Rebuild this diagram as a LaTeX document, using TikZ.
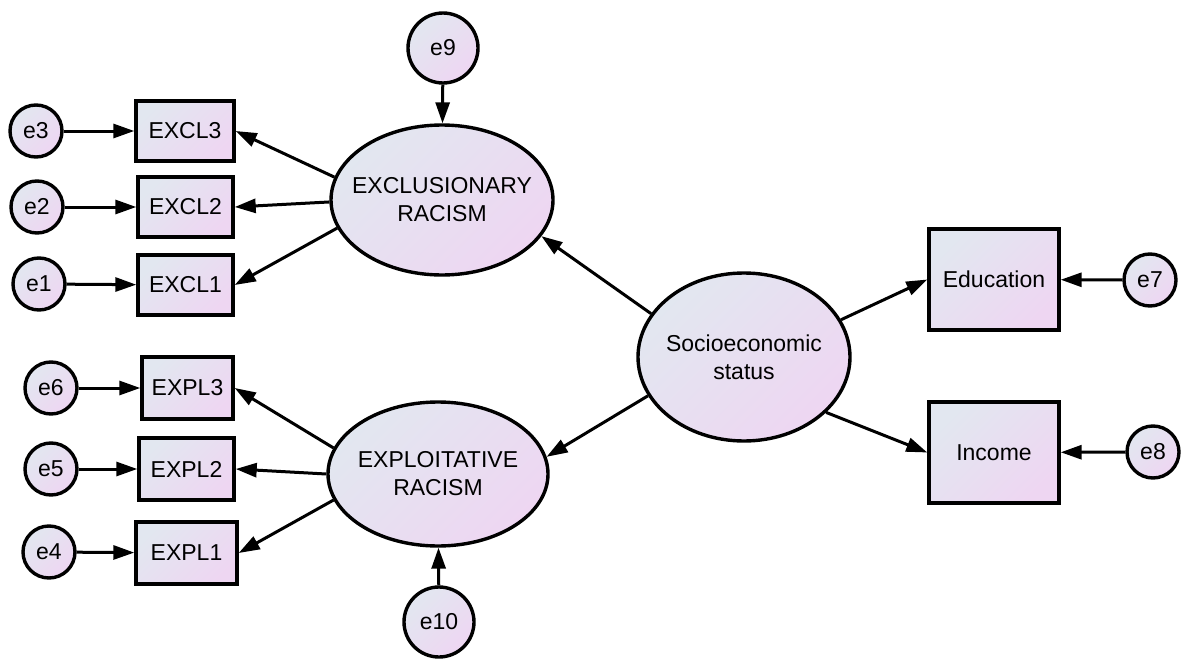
\documentclass[tikz,border=0pt]{standalone}
\usepackage{fontspec}
\setmainfont{Liberation Sans}
\usetikzlibrary{shapes.geometric,arrows.meta}
\definecolor{gL}{HTML}{E2E7F0}
\definecolor{gR}{HTML}{EED6F2}
\begin{document}
\begin{tikzpicture}[x=0.5pt,y=-0.5pt,
  base/.style={draw=black, line width=1.7pt, top color=gL, bottom color=gR, shading angle=45,
    font=\fontsize{11.5}{14}\selectfont, align=center, inner sep=0pt, text=black},
  obs/.style={base, rectangle},
  lat/.style={base, ellipse, inner xsep=-12pt, inner ysep=-6pt},
  err/.style={base, ellipse, minimum width=26pt, minimum height=26pt},
  errbig/.style={base, ellipse, minimum width=35pt, minimum height=35pt},
  arr/.style={line width=1.5pt, -{Triangle[length=10.5pt,width=7pt]}}
]
\useasboundingbox (0,0) rectangle (1200,669);

% latent variables
\node[lat, minimum width=111pt, minimum height=75pt] (excl) at (442,200) {EXCLUSIONARY\\RACISM};
\node[lat, minimum width=110pt, minimum height=72pt] (expl) at (438,474) {EXPLOITATIVE\\RACISM};
\node[lat, minimum width=106pt, minimum height=84pt] (ses) at (744,357) {Socioeconomic\\status};

% observed
\node[obs, minimum width=49pt, minimum height=30pt] (x3) at (185,131) {EXCL3};
\node[obs, minimum width=47.5pt, minimum height=30pt] (x2) at (185.5,207) {EXCL2};
\node[obs, minimum width=47.5pt, minimum height=30pt] (x1) at (185.5,285) {EXCL1};
\node[obs, minimum width=45.5pt, minimum height=31pt] (p3) at (187.5,388) {EXPL3};
\node[obs, minimum width=47.5pt, minimum height=31pt] (p2) at (186.5,469) {EXPL2};
\node[obs, minimum width=50.5pt, minimum height=31pt] (p1) at (186.5,553) {EXPL1};
\node[obs, minimum width=65pt, minimum height=50.5pt] (edu) at (994,279.5) {Education};
\node[obs, minimum width=65pt, minimum height=50.5pt] (inc) at (994,452.5) {Income};

% errors
\node[err] (e3) at (36,131) {e3};
\node[err] (e2) at (37,207) {e2};
\node[err] (e1) at (39,284) {e1};
\node[err] (e6) at (51,388) {e6};
\node[err] (e5) at (51,469) {e5};
\node[err] (e4) at (49,552) {e4};
\node[err] (e7) at (1150,280) {e7};
\node[err] (e8) at (1153,452) {e8};
\node[errbig] (e9) at (443,48) {e9};
\node[errbig] (e10) at (439,622) {e10};

% error arrows
\draw[arr] (e3) -- (x3);
\draw[arr] (e2) -- (x2);
\draw[arr] (e1) -- (x1);
\draw[arr] (e6) -- (p3);
\draw[arr] (e5) -- (p2);
\draw[arr] (e4) -- (p1);
\draw[arr] (e7) -- (edu);
\draw[arr] (e8) -- (inc);
\draw[arr] (e9) -- (excl);
\draw[arr] (e10) -- (expl);

% loadings
\draw[arr] (excl.168) -- (x3.east);
\draw[arr] (excl.181) -- (x2.east);
\draw[arr] (excl.195) -- (x1.east);
\draw[arr] (expl.166) -- (p3.east);
\draw[arr] (expl.180) -- (p2.east);
\draw[arr] (expl.194) -- (p1.east);
\draw[arr] (ses.155) -- (excl.340);
\draw[arr] (ses.202) -- (expl.9);
\draw[arr] (ses.21) -- (edu.west);
\draw[arr] (ses.326) -- (inc.west);
\end{tikzpicture}
\end{document}
